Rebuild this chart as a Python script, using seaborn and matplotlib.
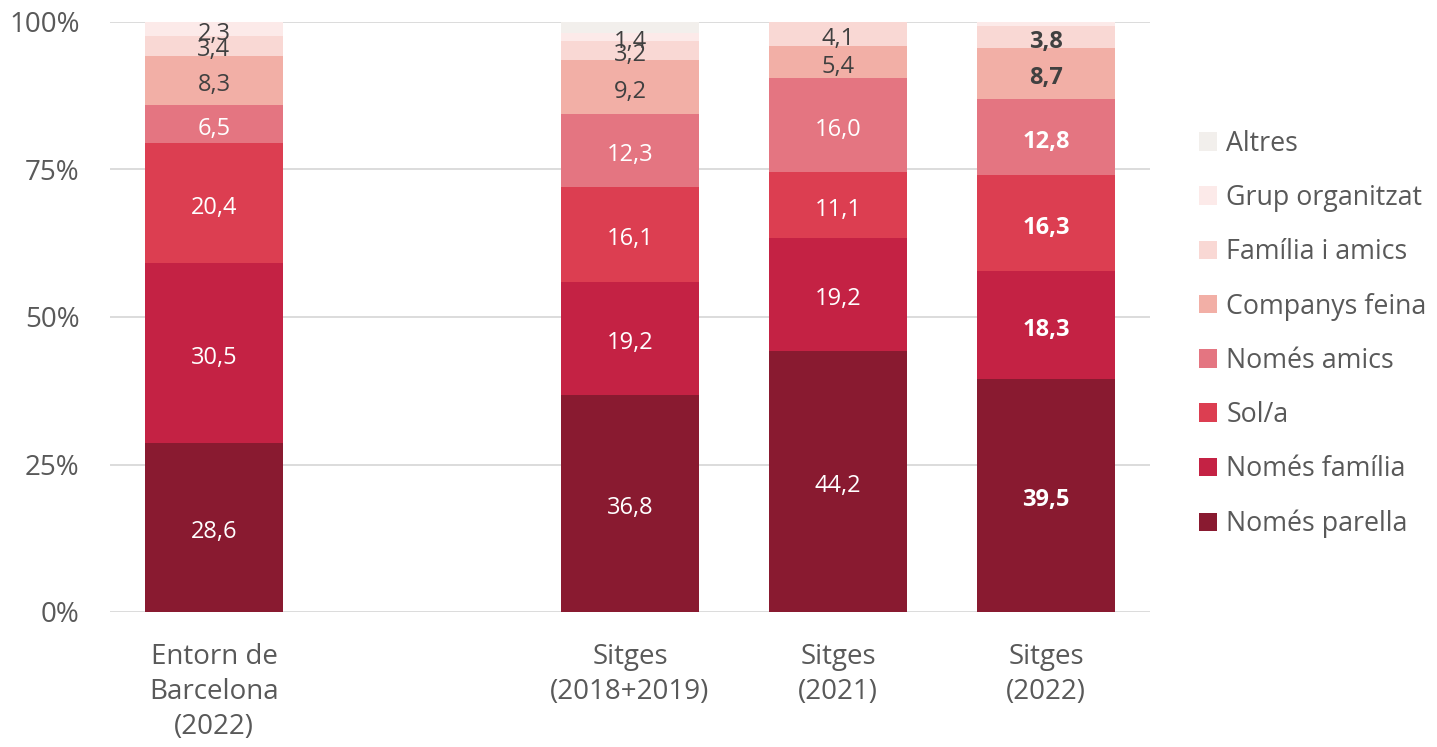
import numpy as np
import pandas as pd
import matplotlib
matplotlib.use("Agg")
import matplotlib.pyplot as plt
from matplotlib.patches import Patch
import seaborn as sns

# ---- data ----
categories = ["Entorn de\nBarcelona\n(2022)", " ", "Sitges\n(2018+2019)", "Sitges\n(2021)", "Sitges\n(2022)"]
bar_categories = ["Entorn de\nBarcelona\n(2022)", "Sitges\n(2018+2019)", "Sitges\n(2021)", "Sitges\n(2022)"]
segments = ["Només parella", "Només família", "Sol/a", "Només amics",
            "Companys feina", "Família i amics", "Grup organitzat", "Altres"]
nomes_parella   = [28.6, 36.8, 44.2, 39.5]
nomes_familia   = [30.5, 19.2, 19.2, 18.3]
sol_a           = [20.4, 16.1, 11.1, 16.3]
nomes_amics     = [6.5, 12.3, 16.0, 12.8]
companys_feina  = [8.3, 9.2, 5.4, 8.7]
familia_amics   = [3.4, 3.2, 4.1, 3.8]
grup_organitzat = [2.3, 1.4, 0.0, 0.6]
altres          = [0.0, 1.8, 0.0, 0.0]
series = [nomes_parella, nomes_familia, sol_a, nomes_amics,
          companys_feina, familia_amics, grup_organitzat, altres]
y_ticks = [0, 25, 50, 75, 100]
y_tick_labels = ["0%", "25%", "50%", "75%", "100%"]

colors = ["#891A30", "#C42244", "#DC3E51", "#E47581",
          "#F2AFA6", "#F9D8D4", "#FCEAE9", "#F2EFEC"]
label_colors = ["white", "white", "white", "white", "#404040", "#404040", "#404040", None]

sns.set_theme(style="white")
plt.rcParams["font.family"] = ["Open Sans", "DejaVu Sans"]

fig = plt.figure(figsize=(14.37, 7.47), dpi=100)
ax = fig.add_axes([110/1437, 1 - 612/747, 1040/1437, 590/747])

vals = np.array(series)            # shape (segments, bars)
cum = np.cumsum(vals, axis=0)

# overplot cumulative bars from top segment down
for k in range(len(segments) - 1, -1, -1):
    df = pd.DataFrame({"cat": bar_categories, "value": cum[k]})
    sns.barplot(data=df, x="cat", y="value", order=categories, color=colors[k],
                saturation=1, width=0.665, ax=ax, zorder=3, linewidth=0)

# labels
for k, seg in enumerate(segments):
    if label_colors[k] is None:
        continue
    for j, cat in enumerate(bar_categories):
        v = vals[k, j]
        if v < 1:
            continue
        xpos = categories.index(cat)
        ycen = cum[k, j] - v / 2
        bold = (j == len(bar_categories) - 1)
        ax.annotate(f"{v:.1f}".replace(".", ","), (xpos, ycen), xytext=(0, -3.5),
                    textcoords="offset points", ha="center", va="center",
                    color=label_colors[k], fontsize=17,
                    fontweight="bold" if bold else "normal", zorder=5)

ax.set_ylim(0, 100)
ax.set_xlim(-0.5, 4.5)
ax.set_yticks(y_ticks)
ax.set_yticklabels(y_tick_labels)
ax.yaxis.grid(True, color="#D9D9D9", linewidth=1.3, zorder=0)
ax.set_axisbelow(True)
for s in ax.spines.values():
    s.set_visible(False)
ax.set_xlabel("")
ax.set_ylabel("")
ax.tick_params(axis="y", labelsize=20, labelcolor="#595959", pad=22, length=0)
ax.tick_params(axis="x", labelsize=20, labelcolor="#595959", pad=22, length=0)
for t in ax.get_xticklabels():
    t.set_linespacing(1.35)

handles = [Patch(facecolor=colors[k], edgecolor="none") for k in range(len(segments) - 1, -1, -1)]
labels = [segments[k] for k in range(len(segments) - 1, -1, -1)]
leg = fig.legend(handles, labels, loc="upper left", bbox_to_anchor=(1188/1437, 1 - 119/747),
                 frameon=False, fontsize=19.3, labelcolor="#595959",
                 handlelength=0.68, handleheight=0.68, handletextpad=0.35,
                 labelspacing=0.98, borderaxespad=0, borderpad=0.4)

fig.savefig("out.png", dpi=100)
